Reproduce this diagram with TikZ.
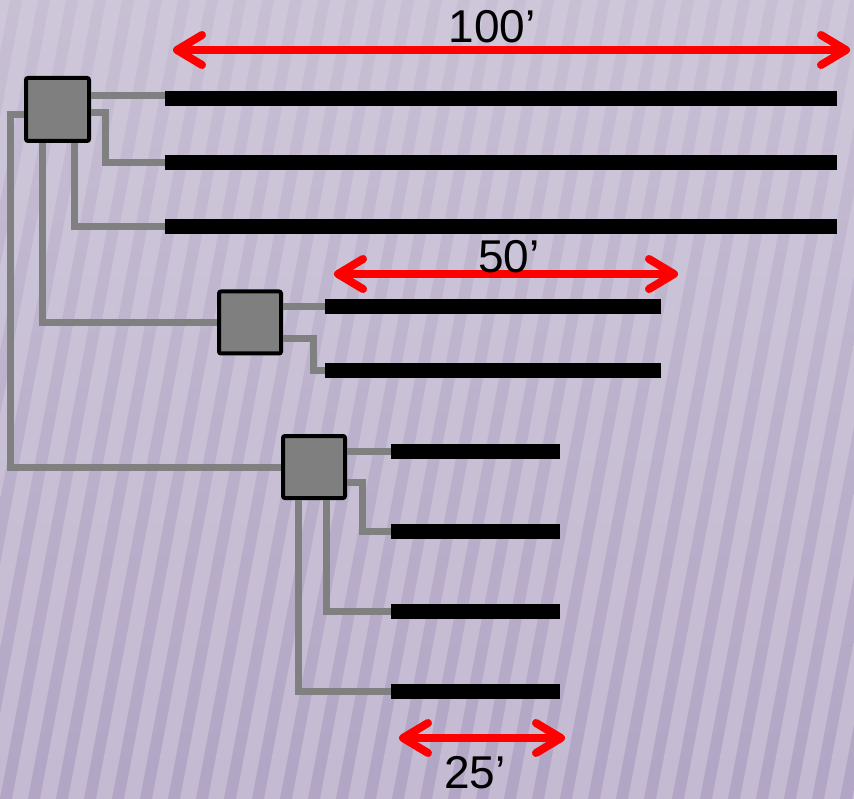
\documentclass[tikz,border=0pt]{standalone}
\usepackage{fontspec}
\setmainfont{Liberation Sans}
\usetikzlibrary{arrows.meta}
\definecolor{bgtop}{HTML}{CEC7D9}
\definecolor{bgbot}{HTML}{C4BAD2}
\definecolor{stripecol}{HTML}{AC9FC1}
\definecolor{wiregray}{HTML}{808080}
\definecolor{boxgray}{HTML}{7F7F7F}
\begin{document}
\begin{tikzpicture}[x=1pt,y=-1pt,
  wire/.style={draw=wiregray,line width=7pt,line join=miter},
  bar/.style={draw=black,line width=15pt},
  box/.style={draw=black,fill=boxgray,line width=4pt,minimum size=63pt,rounded corners=2pt,inner sep=0pt},
  dim/.style={draw=red,line width=8pt,
    {Straight Barb[length=25pt,width=30pt,line cap=round,line join=round]}-{Straight Barb[length=25pt,width=30pt,line cap=round,line join=round]}},
  lbl/.style={font=\fontsize{46}{46}\selectfont,text=black,inner sep=0pt,anchor=base}]
\useasboundingbox (0,0) rectangle (854,799);
% background
\shade[top color=bgtop,bottom color=bgbot] (0,0) rectangle (854,799);
\begin{scope}
  \clip (0,0) rectangle (854,799);
  \foreach \i in {-8,...,32} {
    \shade[top color=stripecol!25!bgtop,bottom color=stripecol,opacity=0.75]
      (\i*28,799) -- (\i*28+12,799) -- (\i*28+162,0) -- (\i*28+150,0) -- cycle;
  }
\end{scope}
% boxes
\node[box] (b1) at (57.5,109.5) {};
\node[box,minimum size=62pt] (b2) at (250,322.5) {};
\node[box,minimum size=62pt] (b3) at (314,467) {};
% bar ends
\coordinate (r1) at (165,99);   \coordinate (r1e) at (837,99);
\coordinate (r2) at (165,163);  \coordinate (r2e) at (837,163);
\coordinate (r3) at (165,227);  \coordinate (r3e) at (837,227);
\coordinate (r4) at (325,306.5);\coordinate (r4e) at (661,306.5);
\coordinate (r5) at (325,371);  \coordinate (r5e) at (661,371);
\coordinate (r6) at (391,451);  \coordinate (r6e) at (560,451);
\coordinate (r7) at (391,531);  \coordinate (r7e) at (560,531);
\coordinate (r8) at (391,611);  \coordinate (r8e) at (560,611);
\coordinate (r9) at (391,691);  \coordinate (r9e) at (560,691);
% wires
\draw[wire] (b1.east |- 0,96) -- (r1 |- 0,96);
\draw[wire] (b1.east |- 0,113) -- (105,113) |- (r2);
\draw[wire] (b1.south -| 74,0) |- (r3);
\draw[wire] (b1.south -| 42,0) |- (b2.west);
\draw[wire] (b1.west |- 0,115) -- (10,115) |- (b3.west);
\draw[wire] (b2.east |- r4) -- (r4);
\draw[wire] (b2.east |- 0,339) -- (313,339) |- (r5);
\draw[wire] (b3.east |- r6) -- (r6);
\draw[wire] (b3.east |- 0,482) -- (362,482) |- (r7);
\draw[wire] (b3.south -| 326,0) |- (r8);
\draw[wire] (b3.south -| 298,0) |- (r9);
% bars
\foreach \k in {1,...,9} { \draw[bar] (r\k) -- (r\k e); }
% dimension arrows
\coordinate (a1l) at (173,50);  \coordinate (a1r) at (850,50);
\coordinate (a2l) at (334,274); \coordinate (a2r) at (678,274);
\coordinate (a3l) at (399,738); \coordinate (a3r) at (565,738);
\draw[dim] (a1l) -- (a1r);
\draw[dim] (a2l) -- (a2r);
\draw[dim] (a3l) -- (a3r);
% labels
\node[lbl] (t1) at (492,43) {100’};
\node[lbl] (t2) at (509,273) {50’};
\node[lbl] (t3) at (475,788) {25’};
\end{tikzpicture}
\end{document}
